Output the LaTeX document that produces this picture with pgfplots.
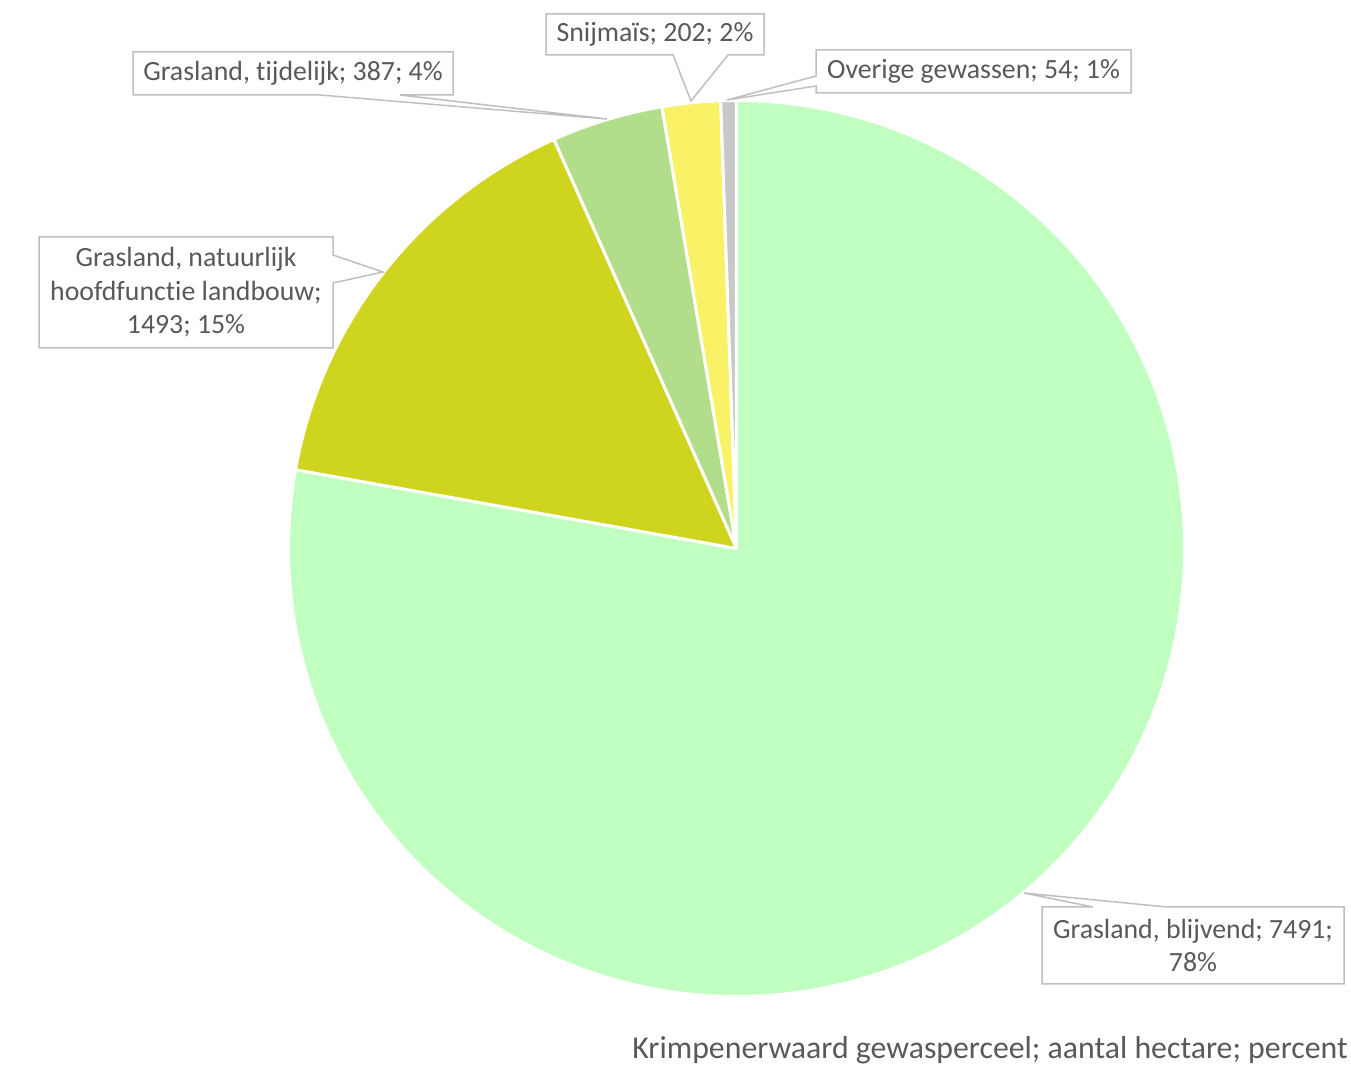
\documentclass[border=0pt]{standalone}
\usepackage{pgfplots}
\usepackage{pgfplotstable}
\pgfplotsset{compat=1.18}
\usepackage{fontspec}
\setmainfont{Carlito}[RawFeature={-liga}]
\definecolor{cA}{RGB}{192,255,192}
\definecolor{cB}{RGB}{207,213,31}
\definecolor{cC}{RGB}{178,222,140}
\definecolor{cD}{RGB}{250,242,102}
\definecolor{cE}{RGB}{200,200,200}
\definecolor{txt}{RGB}{89,89,89}
\definecolor{brd}{RGB}{191,191,191}

\pgfplotstableread{
value color
7491 cA
1493 cB
387 cC
202 cD
54 cE
}\piedata

\def\total{0}%
\pgfplotsforeachungrouped \i in {0,...,4}{%
  \pgfplotstablegetelem{\i}{value}\of\piedata%
  \pgfmathsetmacro\total{\total+\pgfplotsretval}%
}%

\begin{document}%
\begin{tikzpicture}
\begin{axis}[
  hide axis, scale only axis, clip=false,
  width=675.5pt, height=535pt,
  xmin=0, xmax=1351, ymin=0, ymax=1070,
]
\path (axis cs:0,0) rectangle (axis cs:1351,1070);
\def\startang{90}
\pgfplotsforeachungrouped \i in {0,...,4}{%
  \pgfplotstablegetelem{\i}{value}\of\piedata
  \let\v\pgfplotsretval
  \pgfplotstablegetelem{\i}{color}\of\piedata
  \let\c\pgfplotsretval
  \pgfmathsetmacro\frac{\v/\total}%
  \pgfmathsetmacro\endang{\startang-360*\frac}%
  \edef\temp{\noexpand\fill[\c, draw=white, line width=1.5pt, line join=round]
    (axis cs:736.5,521.5) -- ++(\startang:224pt)
    arc[start angle=\startang, end angle=\endang, radius=224pt] -- cycle;}%
  \temp
  \global\let\startang\endang
}
% callouts
\tikzset{co/.style={fill=white, draw=brd, line width=0.75pt, line join=miter}}
\draw[co] (axis cs:133,1018) -- (axis cs:453,1018) -- (axis cs:453,975) -- (axis cs:400,975) -- (axis cs:607,951) -- (axis cs:320,975) -- (axis cs:133,975) -- cycle;
\draw[co] (axis cs:546,1056) -- (axis cs:764,1056) -- (axis cs:764,1015) -- (axis cs:728,1015) -- (axis cs:691,969) -- (axis cs:673,1015) -- (axis cs:546,1015) -- cycle;
\draw[co] (axis cs:816,1020) -- (axis cs:1131,1020) -- (axis cs:1131,977) -- (axis cs:816,977) -- (axis cs:816,984) -- (axis cs:727,970) -- (axis cs:816,994) -- cycle;
\draw[co] (axis cs:39,833) -- (axis cs:333,833) -- (axis cs:333,815) -- (axis cs:383,798) -- (axis cs:333,787) -- (axis cs:333,722) -- (axis cs:39,722) -- cycle;
\draw[co] (axis cs:1042,163) -- (axis cs:1093,163) -- (axis cs:1024,177) -- (axis cs:1167,163) -- (axis cs:1344,163) -- (axis cs:1344,86) -- (axis cs:1042,86) -- cycle;
\tikzset{lb/.style={text=txt, inner sep=0pt, align=center, font=\fontsize{13.9}{16.75}\selectfont}}
\node[lb] at (axis cs:293,996.5) {Grasland, tijdelijk; 387; 4\%};
\node[lb] at (axis cs:655,1035.5) {Snijmaïs; 202; 2\%};
\node[lb] at (axis cs:973.5,998.5) {Overige gewassen; 54; 1\%};
\node[lb] at (axis cs:186,777.5) {Grasland, natuurlijk\\hoofdfunctie landbouw;\\1493; 15\%};
\node[lb] at (axis cs:1193,124.5) {Grasland, blijvend; 7491;\\78\%};
\node[lb, anchor=east, font=\fontsize{15.9}{19}\selectfont] at (axis cs:1348,20) {Krimpenerwaard gewasperceel; aantal hectare; percent};
\end{axis}
\end{tikzpicture}%
\end{document}
